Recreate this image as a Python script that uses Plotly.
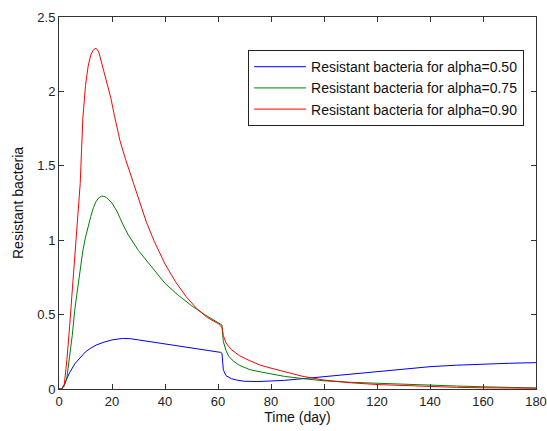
import plotly.graph_objects as go

# Time points (day) and series values
t_red = [0, 1, 2, 3, 4, 5, 6, 7, 8, 9, 10, 11, 12, 13, 14, 15, 16, 17, 18, 19.5, 21, 23, 25, 28, 30, 33,
         36, 40, 44, 48, 52, 56, 60, 61, 61.5, 62, 63, 65, 68, 72, 76, 80, 85, 92, 100, 110, 120, 130, 140,
         150, 160, 170, 180]
red = [0, 0, 0.03, 0.2, 0.42, 0.65, 0.89, 1.1, 1.38, 1.82, 2.04, 2.17, 2.245, 2.28, 2.29, 2.265, 2.2, 2.13,
       2.06, 1.96, 1.83, 1.67, 1.55, 1.39, 1.28, 1.12, 0.99, 0.84, 0.72, 0.62, 0.54, 0.48, 0.44, 0.425, 0.415,
       0.36, 0.31, 0.265, 0.225, 0.19, 0.16, 0.14, 0.115, 0.085, 0.06, 0.042, 0.03, 0.022, 0.015, 0.011,
       0.008, 0.006, 0.005]

t_green = [0, 1, 2, 3, 4, 5, 6, 7, 8, 9, 10, 11, 12, 13, 14, 15, 16, 17, 18, 20, 22, 24, 26, 30, 35, 40,
           45, 50, 55, 58, 60, 61, 61.5, 62, 63, 64, 66, 68, 72, 76, 80, 85, 92, 100, 110, 120, 130, 140,
           150, 160, 170, 180]
green = [0, 0, 0.02, 0.08, 0.22, 0.36, 0.54, 0.68, 0.82, 0.93, 1.02, 1.1, 1.16, 1.22, 1.26, 1.285, 1.295,
         1.295, 1.285, 1.25, 1.19, 1.11, 1.04, 0.93, 0.82, 0.71, 0.63, 0.56, 0.5, 0.47, 0.45, 0.44, 0.43,
         0.32, 0.26, 0.22, 0.185, 0.16, 0.13, 0.115, 0.1, 0.085, 0.07, 0.055, 0.045, 0.038, 0.032, 0.027,
         0.02, 0.015, 0.011, 0.007]

t_blue = [0, 1, 2, 3, 4, 6, 8, 10, 12, 14, 17, 20, 24, 27, 30, 35, 40, 46, 52, 58, 61, 61.5, 62, 63, 65,
          67, 70, 75, 80, 85, 90, 100, 110, 120, 130, 140, 150, 160, 170, 180]
blue = [0, 0, 0.03, 0.07, 0.11, 0.17, 0.21, 0.25, 0.275, 0.295, 0.315, 0.33, 0.34, 0.338, 0.33, 0.316,
        0.302, 0.284, 0.27, 0.255, 0.246, 0.24, 0.13, 0.09, 0.07, 0.06, 0.052, 0.05, 0.053, 0.058, 0.066,
        0.083, 0.1, 0.12, 0.137, 0.15, 0.16, 0.168, 0.173, 0.177]

x_ticks = [0, 20, 40, 60, 80, 100, 120, 140, 160, 180]
y_ticks = [0, 0.5, 1, 1.5, 2, 2.5]
y_tick_labels = ["0", "0.5", "1", "1.5", "2", "2.5"]

FONT = "Liberation Sans, Arial, sans-serif"

fig = go.Figure()
fig.add_trace(go.Scatter(x=t_blue, y=blue, mode="lines", name="Resistant bacteria for alpha=0.50",
                         line=dict(color="#0000ff", width=1)))
fig.add_trace(go.Scatter(x=t_green, y=green, mode="lines", name="Resistant bacteria for alpha=0.75",
                         line=dict(color="#008000", width=1)))
fig.add_trace(go.Scatter(x=t_red, y=red, mode="lines", name="Resistant bacteria for alpha=0.90",
                         line=dict(color="#ff0000", width=1)))

axis_common = dict(
    showgrid=False, zeroline=False, showline=True, linecolor="#333333", linewidth=1,
    mirror="ticks", ticks="inside", ticklen=5, tickcolor="#333333", automargin=False,
    tickfont=dict(family=FONT, size=13, color="#222222"),
)

fig.update_xaxes(range=[0, 180], tickvals=x_ticks, title=dict(text="Time (day)", standoff=4,
                 font=dict(family=FONT, size=14, color="#111111")), **axis_common)
fig.update_yaxes(range=[0, 2.5], tickvals=y_ticks, ticktext=y_tick_labels,
                 title=dict(text="Resistant bacteria", standoff=10,
                            font=dict(family=FONT, size=14, color="#111111")), **axis_common)

fig.update_layout(
    width=547, height=431,
    margin=dict(l=59, r=11, t=17, b=42),
    paper_bgcolor="white", plot_bgcolor="white",
    font=dict(family=FONT, size=14, color="#111111"),
    legend=dict(x=0.975, xanchor="right", y=0.911, yanchor="top", itemwidth=52,
                bgcolor="white", bordercolor="#222222", borderwidth=1,
                font=dict(family=FONT, size=14, color="#111111")),
    showlegend=True,
)

fig.write_html("out.html", config={"displayModeBar": False},
               post_script="document.body.style.margin='0';")
